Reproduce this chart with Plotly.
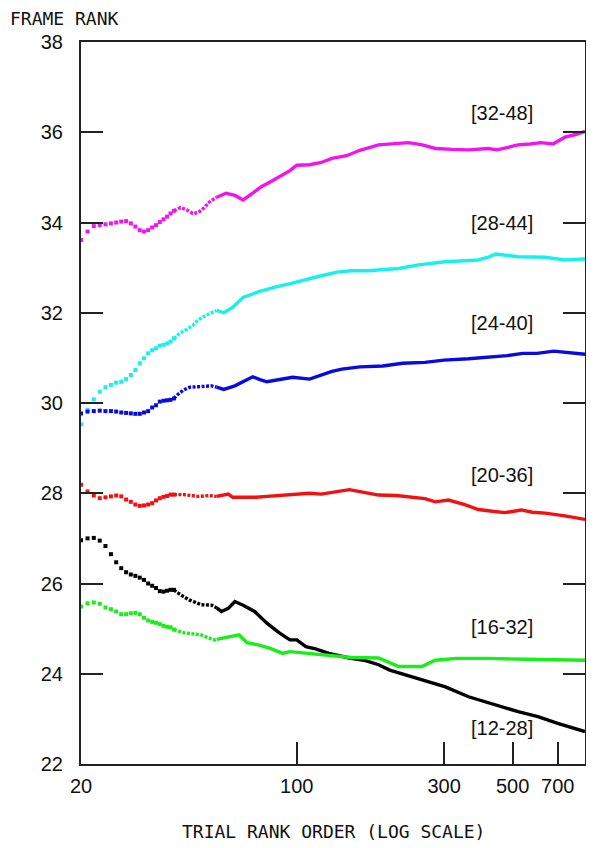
import plotly.graph_objects as go

# ---------------- data ----------------
early_ranks = list(range(20, 41))  # individual trials, drawn as dots

mag_early = [33.61, 33.80, 33.92, 33.94, 33.96, 33.98, 34.00, 34.02, 34.03, 33.98, 33.91,
             33.83, 33.80, 33.83, 33.89, 33.94, 34.01, 34.07, 34.13, 34.20, 34.26]
mag_late_x = [40, 42, 44, 46, 48, 50, 52, 55, 59, 63, 67, 72, 77, 82, 88, 95, 100, 110, 120, 130,
              145, 160, 184, 205, 230, 255, 281, 320, 360, 417, 445, 480, 521, 570, 618, 676, 739, 800, 858]
mag_late_y = [34.26, 34.33, 34.28, 34.20, 34.22, 34.32, 34.45, 34.56, 34.65, 34.60, 34.50, 34.65, 34.80,
              34.90, 35.02, 35.15, 35.27, 35.28, 35.33, 35.42, 35.48, 35.60, 35.72, 35.75, 35.77, 35.72,
              35.64, 35.62, 35.61, 35.64, 35.61, 35.66, 35.72, 35.74, 35.77, 35.74, 35.89, 35.95, 36.02]

cyan_early = [29.53, 29.85, 30.08, 30.25, 30.35, 30.40, 30.45, 30.47, 30.53, 30.62, 30.73,
              30.88, 30.99, 31.10, 31.17, 31.21, 31.27, 31.29, 31.32, 31.36, 31.43]
cyan_late_x = [40, 42, 44, 46, 48, 51, 55, 58, 62, 67, 75, 85, 96, 110, 120, 135, 150, 170, 184, 214,
               248, 303, 387, 420, 440, 470, 521, 637, 739, 858]
cyan_late_y = [31.43, 31.56, 31.63, 31.72, 31.84, 31.95, 32.05, 32.00, 32.12, 32.34, 32.46, 32.57, 32.65,
               32.76, 32.82, 32.90, 32.93, 32.93, 32.95, 32.98, 33.06, 33.13, 33.17, 33.24, 33.30, 33.27,
               33.24, 33.23, 33.17, 33.19]

blue_early = [29.77, 29.81, 29.82, 29.83, 29.82, 29.82, 29.81, 29.79, 29.78, 29.77, 29.76,
              29.76, 29.79, 29.82, 29.90, 29.95, 30.03, 30.05, 30.06, 30.07, 30.10]
blue_late_x = [40, 41, 43, 45, 48, 53, 55, 58, 63, 67, 72, 76, 80, 88, 97, 110, 120, 130, 140, 160, 190,
               220, 260, 300, 360, 420, 480, 540, 600, 680, 750, 858]
blue_late_y = [30.10, 30.18, 30.29, 30.35, 30.36, 30.38, 30.35, 30.30, 30.38, 30.47, 30.58, 30.52, 30.47,
               30.52, 30.57, 30.53, 30.62, 30.70, 30.75, 30.80, 30.82, 30.88, 30.90, 30.95, 30.98, 31.02,
               31.05, 31.10, 31.10, 31.15, 31.12, 31.08]

red_early = [28.19, 28.04, 27.95, 27.89, 27.91, 27.93, 27.95, 27.93, 27.86, 27.81, 27.75,
             27.72, 27.73, 27.75, 27.78, 27.84, 27.89, 27.92, 27.94, 27.97, 27.97]
red_late_x = [40, 43, 48, 52, 55, 60, 62, 69, 74, 80, 90, 100, 110, 120, 130, 148, 165, 184, 210, 236,
              260, 281, 310, 350, 387, 430, 473, 533, 580, 637, 739, 858]
red_late_y = [27.97, 27.97, 27.93, 27.95, 27.93, 27.98, 27.91, 27.91, 27.91, 27.93, 27.95, 27.97, 28.00,
              27.98, 28.02, 28.08, 28.02, 27.96, 27.95, 27.92, 27.88, 27.81, 27.85, 27.75, 27.64, 27.60,
              27.57, 27.63, 27.58, 27.56, 27.50, 27.42]

black_early = [26.96, 27.00, 27.01, 26.95, 26.83, 26.65, 26.47, 26.34, 26.25, 26.20, 26.17,
               26.13, 26.08, 26.00, 25.95, 25.90, 25.83, 25.82, 25.84, 25.86, 25.86]
black_late_x = [40, 41, 43, 45, 47, 49, 53, 55, 57, 60, 63, 67, 73, 80, 88, 95, 100, 107, 115, 127, 148,
                165, 184, 200, 236, 267, 303, 360, 440, 521, 604, 700, 858]
black_late_y = [25.86, 25.80, 25.71, 25.63, 25.58, 25.53, 25.52, 25.46, 25.38, 25.45, 25.60, 25.52, 25.38,
                25.12, 24.90, 24.75, 24.75, 24.60, 24.55, 24.45, 24.35, 24.30, 24.20, 24.08, 23.93, 23.82,
                23.71, 23.49, 23.31, 23.16, 23.05, 22.90, 22.72]

green_early = [25.49, 25.56, 25.58, 25.55, 25.47, 25.43, 25.38, 25.32, 25.32, 25.34, 25.35,
               25.32, 25.24, 25.18, 25.15, 25.13, 25.10, 25.06, 25.04, 25.03, 24.98]
green_late_x = [40, 43, 49, 54, 55, 60, 65, 69, 75, 82, 90, 95, 102, 115, 130, 150, 184, 214, 254, 281,
                330, 420, 550, 858]
green_late_y = [24.98, 24.91, 24.86, 24.75, 24.76, 24.82, 24.86, 24.69, 24.64, 24.56, 24.45, 24.49, 24.47,
                24.43, 24.40, 24.36, 24.35, 24.16, 24.16, 24.30, 24.34, 24.34, 24.32, 24.30]

series_labels = ["[32-48]", "[28-44]", "[24-40]", "[20-36]", "[16-32]", "[12-28]"]
label_y = [36.43, 33.99, 31.77, 28.40, 25.04, 22.80]

y_ticks = [22, 24, 26, 28, 30, 32, 34, 36, 38]
x_ticks = [20, 100, 300, 500, 700]
x_tick_text = ["20", "100", "300", "500", "700"]

# ---------------- styling ----------------
series = [
    (early_ranks, mag_early, mag_late_x, mag_late_y, "#f014f0"),
    (early_ranks, cyan_early, cyan_late_x, cyan_late_y, "#18f0f0"),
    (early_ranks, blue_early, blue_late_x, blue_late_y, "#0a0ae0"),
    (early_ranks, red_early, red_late_x, red_late_y, "#f41010"),
    (early_ranks, black_early, black_late_x, black_late_y, "#000000"),
    (early_ranks, green_early, green_late_x, green_late_y, "#18ee18"),
]

SPLIT = 55  # beyond this rank, points merge into a solid line

fig = go.Figure()
for ex, ey, lx, ly, col in series:
    fig.add_trace(go.Scatter(x=ex, y=ey, mode="markers",
                             marker=dict(symbol="square", size=4, color=col, line=dict(width=0)),
                             showlegend=False, hoverinfo="skip"))
    mid_idx = [i for i, v in enumerate(lx) if v <= SPLIT]
    last_mid = mid_idx[-1]
    fig.add_trace(go.Scatter(x=lx[:last_mid + 1], y=ly[:last_mid + 1], mode="lines",
                             line=dict(color=col, width=3.4, dash="3px,1.5px"),
                             showlegend=False, hoverinfo="skip"))
    fig.add_trace(go.Scatter(x=lx[last_mid:], y=ly[last_mid:], mode="lines",
                             line=dict(color=col, width=3.4),
                             showlegend=False, hoverinfo="skip"))

# The page body has an 8px default margin; size the figure so the plot
# area lands at about x 81..586, y 42..764 in the 594x848 window.
OFF = 8
W, H = 578, 840
L, T = 81 - OFF, 42 - OFF
R = 1
B = H - (764 - OFF)
plot_w = W - L - R
plot_h = H - T - B

annotations = []
for txt, yv in zip(series_labels, label_y):
    annotations.append(dict(text=txt, xref="paper", yref="y", x=(502 - 81) / plot_w, y=yv,
                            showarrow=False, xanchor="center", yanchor="middle",
                            font=dict(family="Liberation Sans, Arial, sans-serif", size=20, color="#111")))
annotations.append(dict(text="TRIAL RANK ORDER (LOG SCALE)", xref="paper", yref="paper",
                        x=(333 - 81) / plot_w, y=-(831 - 764) / plot_h, showarrow=False,
                        xanchor="center", yanchor="middle",
                        font=dict(family="DejaVu Sans Mono, monospace", size=18, color="#111")))
annotations.append(dict(text="FRAME RANK", xref="paper", yref="paper",
                        x=(8 - 81) / plot_w, y=1 + (42 - 19) / plot_h, showarrow=False,
                        xanchor="left", yanchor="middle",
                        font=dict(family="DejaVu Sans Mono, monospace", size=18, color="#111")))

fig.update_layout(
    width=W, height=H,
    margin=dict(l=L, r=R, t=T, b=B, pad=0, autoexpand=False),
    paper_bgcolor="white", plot_bgcolor="white",
    annotations=annotations,
    showlegend=False,
)
fig.update_xaxes(type="log", range=[1.30103, 2.9335],
                 tickvals=x_ticks, ticktext=x_tick_text,
                 ticks="inside", ticklen=22, tickwidth=1.5, tickcolor="#222",
                 showline=True, linecolor="#222", linewidth=2, mirror=True,
                 showgrid=False, zeroline=False, ticklabelstandoff=3, automargin=False,
                 tickfont=dict(family="Liberation Sans, Arial, sans-serif", size=20, color="#111"))
fig.update_yaxes(range=[22, 38], tickvals=y_ticks,
                 ticks="inside", ticklen=22, tickwidth=1.5, tickcolor="#222",
                 showline=True, linecolor="#222", linewidth=2, mirror="ticks",
                 showgrid=False, zeroline=False, ticklabelstandoff=12, automargin=False,
                 tickfont=dict(family="Liberation Sans, Arial, sans-serif", size=20, color="#111"))

fig.write_html("out.html")
